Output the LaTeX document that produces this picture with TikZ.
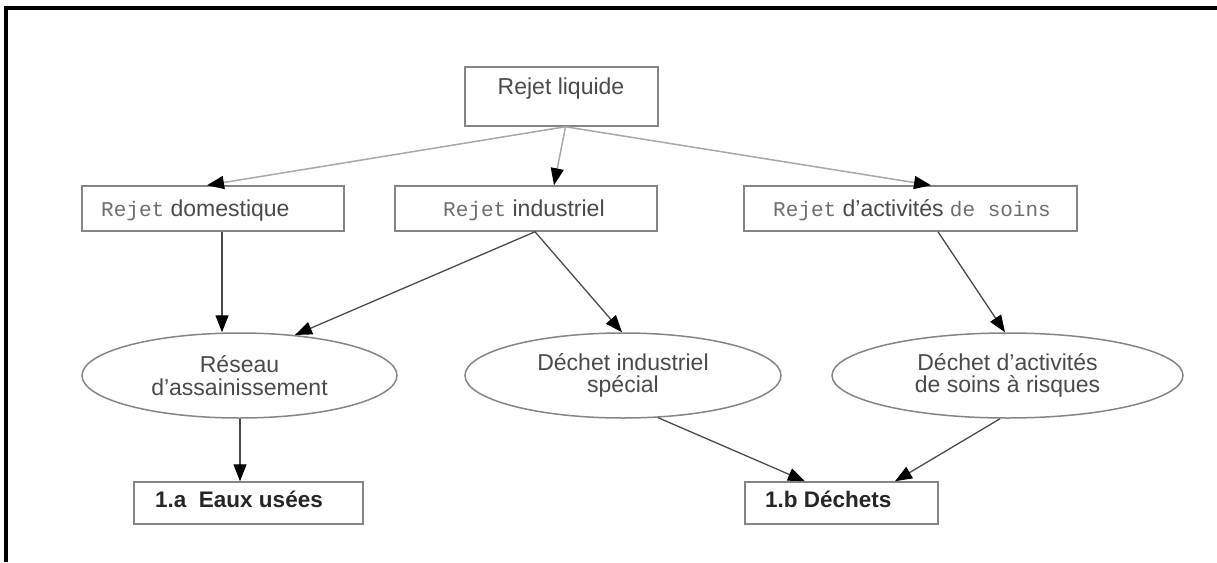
\documentclass[tikz,border=0pt]{standalone}
\usepackage{fontspec}
\setmainfont{Liberation Sans}
\setmonofont{Liberation Mono}
\usetikzlibrary{arrows.meta,shapes.geometric,calc}
\definecolor{txt}{HTML}{4A4A4A}
\definecolor{mono}{HTML}{6E6E6E}
\definecolor{boxc}{HTML}{858585}
\definecolor{lightc}{HTML}{A8A8A8}
\definecolor{darkc}{HTML}{4A4A4A}
\definecolor{boldc}{HTML}{262626}
\newcommand{\mt}[1]{{\fontsize{21}{26}\selectfont\ttfamily\color{mono}#1}}
\begin{document}
\begin{tikzpicture}[x=1pt,y=-1pt,
  boxn/.style={draw=boxc, line width=1.5pt, rectangle, inner sep=0pt},
  elln/.style={draw=boxc, line width=1.5pt, ellipse, inner sep=0pt, align=center,
    text=txt, font=\fontsize{23}{22.5}\selectfont},
  lbl/.style={text=txt, font=\fontsize{23}{26}\selectfont, inner sep=0pt},
  bld/.style={text=boldc, font=\fontsize{22.5}{26}\selectfont\bfseries, inner sep=0pt},
  arrl/.style={draw=lightc, line width=1.5pt, -{Triangle[length=17pt,width=13pt,color=black]}},
  arrd/.style={draw=darkc, line width=1.3pt, -{Triangle[length=17pt,width=13pt,color=black]}},
  frame/.style={line width=4pt, black}]
\useasboundingbox (0,0) rectangle (1217,562);
\fill[white] (0,0) rectangle (1217,562);
% frame
\coordinate (f1) at (6,562);
\coordinate (f2) at (6,8);
\coordinate (f3) at (1217,8);
\draw[frame] (f1) -- (f2) -- (f3);
% boxes
\node[boxn, minimum width=193, minimum height=59] (rl) at (561.5,96.5) {};
\node[lbl, anchor=base] (rlt) at (561,94) {Rejet liquide};
\node[boxn, minimum width=262, minimum height=45] (rd) at (213,208.5) {};
\node[lbl, anchor=base west] (rdt) at (101,216) {\mt{Rejet} domestique};
\node[boxn, minimum width=262, minimum height=45] (ri) at (526,208.5) {};
\node[lbl, anchor=base west] (rit) at (443,216) {\mt{Rejet} industriel};
\node[boxn, minimum width=333, minimum height=45] (ra) at (910.5,208.5) {};
\node[lbl, anchor=base west] (rat) at (773,216) {\mt{Rejet} d'activités \mt{de soins}};
% ellipses
\node[elln, minimum width=315, minimum height=85] (e1) at (239.5,375.5) {Réseau\\d'assainissement};
\node[elln, minimum width=316, minimum height=85] (e2) at (623,375.5) {Déchet industriel\\spécial};
\node[elln, minimum width=351, minimum height=85] (e3) at (1007.5,375.5) {Déchet d'activités\\de soins à risques};
% bottom boxes
\node[boxn, minimum width=229, minimum height=42] (b1) at (248.5,503) {};
\node[bld, anchor=base west] (b1t) at (155,507) {1.a\ \ Eaux usées};
\node[boxn, minimum width=193, minimum height=42] (b2) at (841.5,503) {};
\node[bld, anchor=base west] (b2t) at (765,507) {1.b Déchets};
% arrows
\draw[arrl] ([xshift=4pt]rl.south) -- ([xshift=-6pt]rd.north);
\draw[arrl] ([xshift=4pt]rl.south) -- ([xshift=28pt]ri.north);
\draw[arrl] ([xshift=4pt]rl.south) -- ([xshift=20.5pt]ra.north);
\draw[arrd] ([xshift=9pt]rd.south) -- ([xshift=-17.5pt]e1.north);
\draw[arrd] ([xshift=9pt]ri.south) -- ([xshift=55.5pt,yshift=-2.7pt]e1.north);
\draw[arrd] ([xshift=9pt]ri.south) -- ([xshift=-1pt]e2.north);
\draw[arrd] ([xshift=27.5pt]ra.south) -- ([xshift=-2.5pt]e3.north);
\draw[arrd] ([xshift=0.5pt]e1.south) -- ([xshift=-8.5pt]b1.north);
\draw[arrd] ([xshift=35pt,yshift=1.1pt]e2.south) -- ([xshift=-36.5pt]b2.north);
\draw[arrd] ([xshift=-7.5pt]e3.south) -- ([xshift=53.5pt]b2.north);
\end{tikzpicture}
\end{document}
